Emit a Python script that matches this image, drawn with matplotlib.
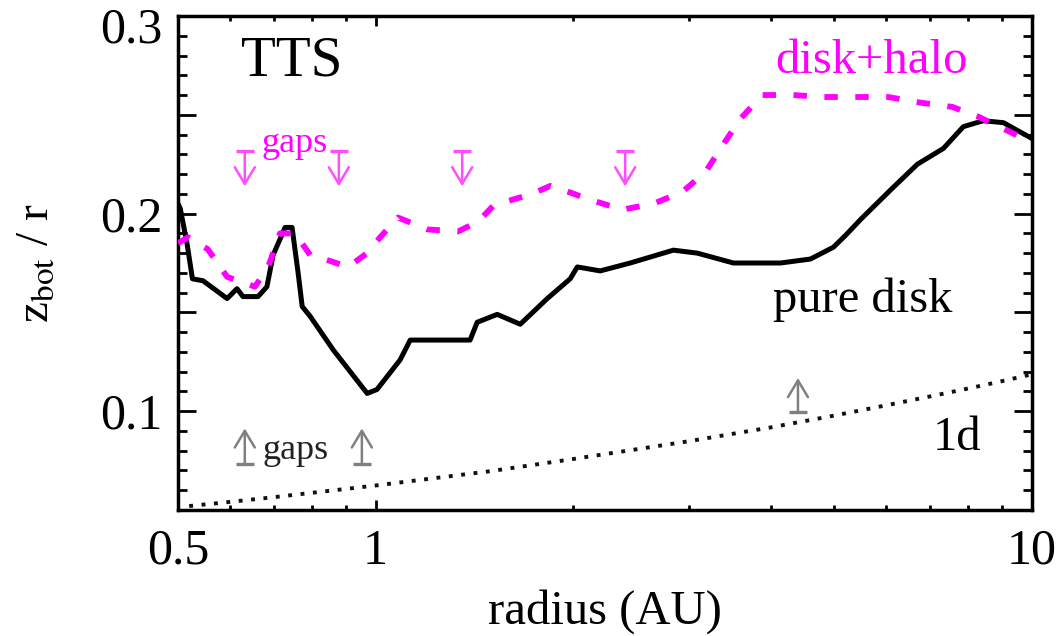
import matplotlib
matplotlib.use("Agg")
import matplotlib.pyplot as plt
import matplotlib.transforms as mtransforms
from matplotlib.ticker import MultipleLocator, NullFormatter

plt.rcParams['font.family'] = ['Liberation Serif', 'DejaVu Serif']
plt.rcParams['mathtext.fontset'] = 'stix'

# pure disk (black solid)
disk_r = [0.500, 0.504, 0.516, 0.526, 0.546, 0.594, 0.615, 0.628, 0.662, 0.683,
          0.698, 0.728, 0.746, 0.762, 0.773, 0.795, 0.862, 0.971, 1.005, 1.090,
          1.129, 1.393, 1.428, 1.532, 1.661, 1.826, 1.979, 2.029, 2.199, 2.443,
          2.842, 3.091, 3.508, 4.138, 4.597, 4.983, 5.20, 5.48, 6.09, 6.69, 7.33,
          7.86, 8.43, 9.05, 9.51, 10.0]
disk_z = [0.205, 0.2025, 0.185, 0.167, 0.166, 0.157, 0.162, 0.158, 0.158, 0.163,
          0.179, 0.193, 0.193, 0.170, 0.153, 0.148, 0.131, 0.109, 0.111, 0.126,
          0.136, 0.136, 0.145, 0.149, 0.144, 0.157, 0.167, 0.173, 0.171, 0.175,
          0.1815, 0.180, 0.175, 0.175, 0.177, 0.183, 0.189, 0.197, 0.212, 0.225, 0.233,
          0.244, 0.247, 0.246, 0.242, 0.238]

# disk + halo (magenta dashed)
halo_r = [0.500, 0.518, 0.555, 0.594, 0.655, 0.686, 0.715, 0.754, 0.795, 0.853,
          0.908, 0.971, 1.016, 1.082, 1.199, 1.336, 1.434, 1.511, 1.615, 1.732,
          1.845, 1.966, 2.123, 2.376, 2.650, 2.934, 3.180, 3.386, 3.596, 3.884,
          4.330, 4.811, 5.42, 6.04, 6.81, 7.56, 8.29, 9.17, 10.0]
halo_z = [0.185, 0.188, 0.182, 0.168, 0.163, 0.173, 0.190, 0.190, 0.179, 0.176,
          0.173, 0.180, 0.188, 0.198, 0.192, 0.191, 0.196, 0.204, 0.207, 0.210,
          0.214, 0.211, 0.207, 0.202, 0.205, 0.211, 0.221, 0.235, 0.248, 0.260,
          0.260, 0.259, 0.259, 0.259, 0.256, 0.254, 0.249, 0.242, 0.236]

# 1d model (dotted)
oned_r = [0.52, 0.6, 0.7, 0.8, 1.0, 1.5, 2.0, 3.0, 4.0, 5.0, 6.0, 7.0, 8.0, 9.0, 10.0]
oned_z = [0.052, 0.0541, 0.0565, 0.0587, 0.0624, 0.0697, 0.0758, 0.0848, 0.0918,
          0.0978, 0.1030, 0.1075, 0.1115, 0.1152, 0.1187]

# gap markers
halo_gaps_r = [0.632, 0.879, 1.355, 2.40]
disk_gaps_r = [0.632, 0.953]
oned_gap_r = [4.40]

fig = plt.figure(figsize=(10.59, 6.36), dpi=100)
ax = fig.add_axes([178 / 1059, 126 / 636, 854 / 1059, 494 / 636])

ax.plot(disk_r, disk_z, color='black', lw=3.6, solid_joinstyle='round', zorder=3)
ax.plot(halo_r, halo_z, color='#ff00ff', lw=4.2, linestyle=(0, (2.3, 3.0)), zorder=4)
ax.plot(oned_r, oned_z, color='#111111', lw=2.8, linestyle=(0, (1, 2.2)), zorder=2)


def gap_arrow(xs, y0, y1, color):
    for x in xs:
        ax.annotate('', xy=(x, y1), xytext=(x, y0),
                    arrowprops=dict(arrowstyle='->, head_length=0.5, head_width=0.3',
                                    color=color, lw=1.8, shrinkA=0, shrinkB=0,
                                    mutation_scale=24))
    ax.plot(xs, [y0] * len(xs), ls='none', marker='_', ms=13, mew=2.4, color=color)


gap_arrow(halo_gaps_r, 0.2316, 0.2138, '#ff4dff')
gap_arrow(disk_gaps_r, 0.0735, 0.0913, '#808080')
gap_arrow(oned_gap_r, 0.0995, 0.1168, '#808080')

ax.set_xscale('log')
ax.set_xlim(0.5, 10)
ax.set_ylim(0.05, 0.3)
ax.set_xticks([0.5, 1, 10])
ax.set_xticklabels(['0.5', '1', '10'])
ax.xaxis.set_minor_formatter(NullFormatter())
ax.set_yticks([0.05, 0.1, 0.15, 0.2, 0.25, 0.3])
ax.set_yticklabels(['', '0.1', '', '0.2', '', '0.3'])
ax.yaxis.set_minor_locator(MultipleLocator(0.01))

ax.tick_params(which='both', direction='in', top=True, right=True,
               labelsize=36, width=2, color='black')
ax.tick_params(axis='y', which='major', length=13, pad=11)
ax.tick_params(axis='y', which='minor', length=6.5)
ax.tick_params(axis='x', which='major', length=7, pad=13)
ax.tick_params(axis='x', which='minor', length=3.5)
for s in ax.spines.values():
    s.set_linewidth(2.5)

# top label sits a little below the frame in the reference
top_tick = ax.yaxis.get_major_ticks()[-1]
top_tick.label1.set_transform(top_tick.label1.get_transform() +
                              mtransforms.ScaledTranslation(0, -0.09, fig.dpi_scale_trans))

ax.set_xlabel('radius (AU)', fontsize=35)
ax.xaxis.set_label_coords(0.5, -0.16)
ax.set_ylabel(r'z$_{\rm bot}$ / r', fontsize=34)
ax.yaxis.set_label_coords(-0.14, 0.5)

ax.text(0.1335, 0.907, 'TTS', transform=ax.transAxes, fontsize=41,
        ha='center', va='center')
ax.text(0.8115, 0.885, 'disk+halo', transform=ax.transAxes, fontsize=35,
        ha='center', va='baseline', color='#ff00ff')
ax.text(0.802, 0.401, 'pure disk', transform=ax.transAxes, fontsize=35,
        ha='center', va='baseline')
ax.text(0.912, 0.1215, '1d', transform=ax.transAxes, fontsize=35,
        ha='center', va='baseline')
ax.text(0.137, 0.725, 'gaps', transform=ax.transAxes, fontsize=26,
        ha='center', va='baseline', color='#ff00ff')
ax.text(0.138, 0.103, 'gaps', transform=ax.transAxes, fontsize=26,
        ha='center', va='baseline', color='#222222')

fig.savefig('out.png', dpi=100)
